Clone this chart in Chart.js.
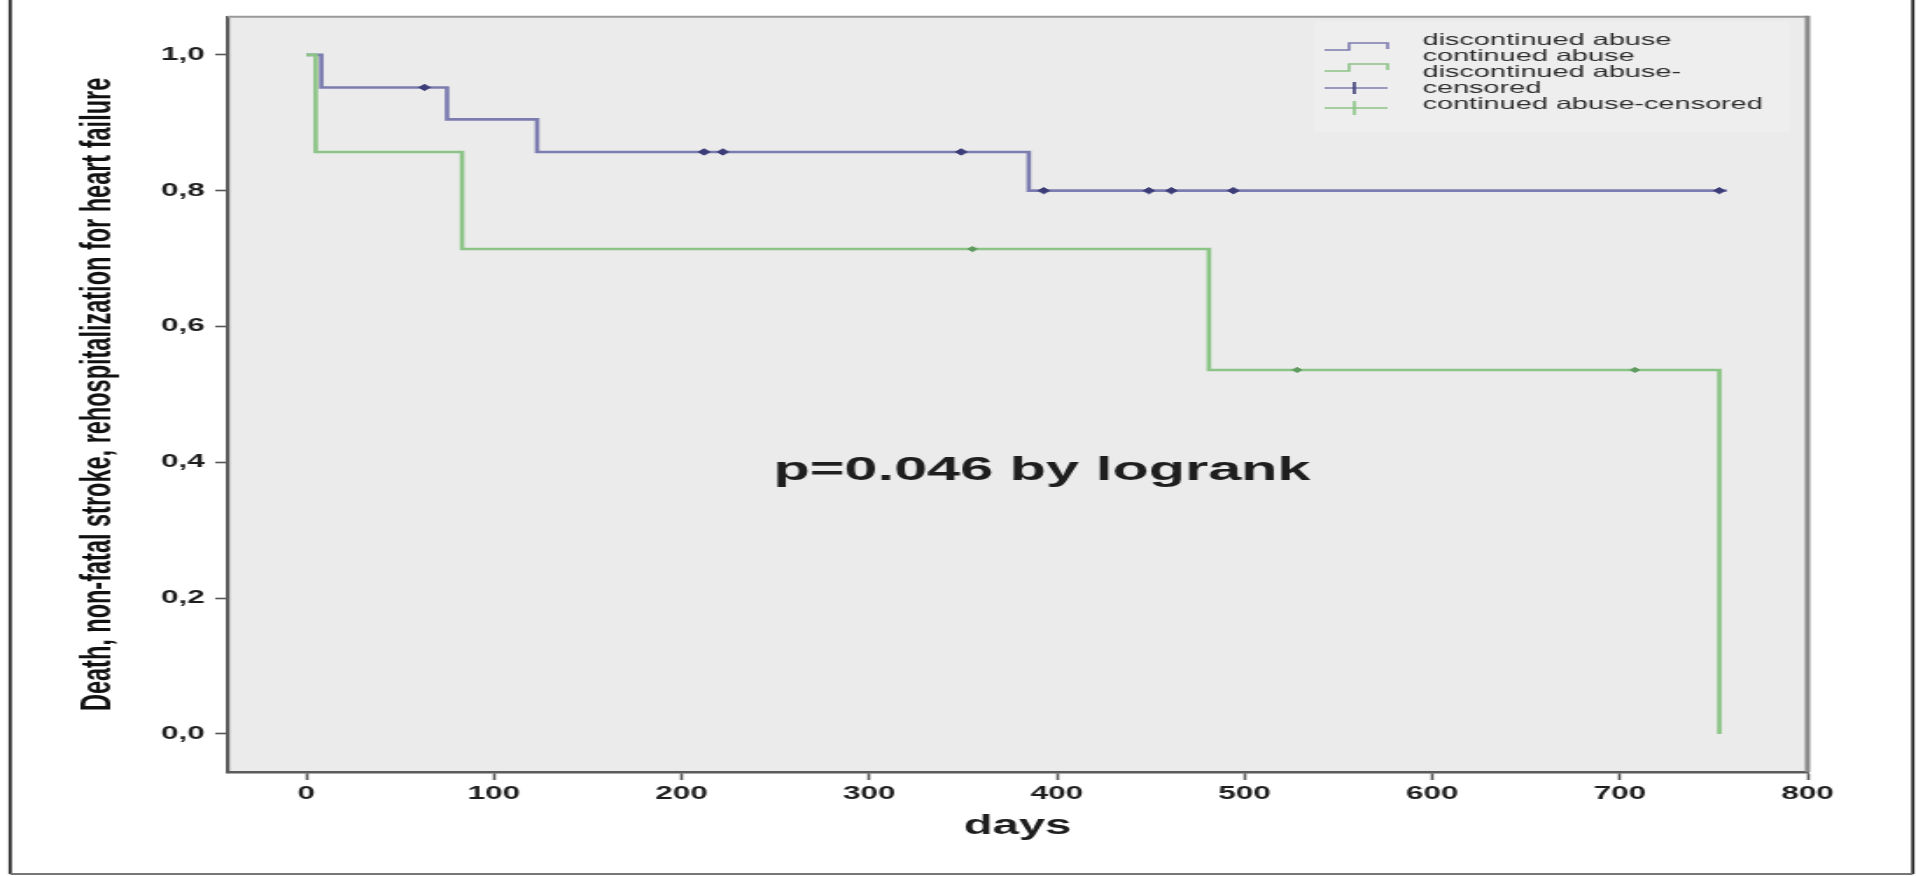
<!DOCTYPE html>
<html>
<head>
<meta charset="utf-8">
<script src="https://cdn.jsdelivr.net/npm/chart.js@4.4.1/dist/chart.umd.min.js"></script>
<style>
  html, body { margin: 0; padding: 0; background: #ffffff; overflow: hidden; }
  /* the original figure is stretched sideways, so the canvas is drawn narrow and widened */
  #chart { display: block; width: 1095px; height: 876px; transform: scaleX(1.749772); transform-origin: 0 0; filter: blur(0.4px); }
</style>
</head>
<body>
<canvas id="chart" width="1095" height="876"></canvas>
<script>
  // survival curves (days, cumulative survival)
  const blueDays = [0, 8, 75, 123, 385, 757];
  const blueSurv = [1.0, 0.952, 0.905, 0.857, 0.80, 0.80];
  const greenDays = [0, 5, 83, 481, 753];
  const greenSurv = [1.0, 0.857, 0.714, 0.536, 0.0];

  // censored cases
  const blueCensorDays = [63, 212, 222, 349, 393, 449, 461, 494, 753];
  const blueCensorSurv = [0.952, 0.857, 0.857, 0.857, 0.80, 0.80, 0.80, 0.80, 0.80];
  const greenCensorDays = [355, 528, 708];
  const greenCensorSurv = [0.714, 0.536, 0.536];

  // axes
  const xTicks = [0, 100, 200, 300, 400, 500, 600, 700, 800];
  const yTicks = [0.0, 0.2, 0.4, 0.6, 0.8, 1.0];
  const xMin = -42, xMax = 800;
  const yMin = -0.056, yMax = 1.056;

  const legendLabels = ['discontinued abuse', 'continued abuse', 'discontinued abuse-', 'censored', 'continued abuse-censored'];
  const pLabel = 'p=0.046 by logrank';
  const pLabelDay = 392;
  const pLabelSurv = 0.388;

  const blueColor = '#7c7cb0';
  const greenColor = '#8cc487';
  const blueMark = '#3c3c78';
  const greenMark = '#5f9a5f';
  const fontFamily = '"Liberation Sans", Arial, sans-serif';

  function toPoints(days, surv) {
    return days.map((d, i) => ({ x: d, y: surv[i] }));
  }

  // grey plot background, frames, legend and the logrank text
  const decorPlugin = {
    id: 'decor',
    beforeDraw(chart) {
      const { ctx, chartArea: a } = chart;
      ctx.save();
      ctx.fillStyle = '#ebebeb';
      ctx.fillRect(a.left, a.top, a.right - a.left, a.bottom - a.top);
      ctx.fillStyle = '#eeeeee';
      ctx.fillRect(a.right - 282, a.top + 5, 272, 110);
      ctx.restore();
    },
    afterDatasetsDraw(chart) {
      const { ctx, scales } = chart;
      ctx.save();
      ctx.fillStyle = '#1e1e1e';
      ctx.font = 'bold 34px ' + fontFamily;
      ctx.textAlign = 'center';
      ctx.textBaseline = 'middle';
      ctx.fillText(pLabel, scales.x.getPixelForValue(pLabelDay), scales.y.getPixelForValue(pLabelSurv));
      ctx.restore();
    },
    afterDraw(chart) {
      const { ctx, chartArea: a } = chart;
      ctx.save();
      // top and right edge of the plot box
      ctx.strokeStyle = '#9a9a9a';
      ctx.lineWidth = 2;
      ctx.beginPath();
      ctx.moveTo(a.left, a.top);
      ctx.lineTo(a.right, a.top);
      ctx.stroke();
      ctx.strokeStyle = '#8a8a8a';
      ctx.lineWidth = 3;
      ctx.beginPath();
      ctx.moveTo(a.right, a.top - 1);
      ctx.lineTo(a.right, a.bottom);
      ctx.stroke();

      // outer figure frame
      ctx.strokeStyle = '#222222';
      ctx.lineWidth = 1.8;
      ctx.beginPath();
      ctx.moveTo(5.8, 0);
      ctx.lineTo(5.8, 874);
      ctx.moveTo(1093.2, 0);
      ctx.lineTo(1093.2, 874);
      ctx.stroke();
      ctx.strokeStyle = '#777777';
      ctx.lineWidth = 2;
      ctx.beginPath();
      ctx.moveTo(5.8, 874);
      ctx.lineTo(1093.2, 874);
      ctx.stroke();

      // legend
      const x0 = a.right - 276, x1 = a.right - 262, x2 = a.right - 240, xc = a.right - 259;
      ctx.lineWidth = 1.6;
      ctx.strokeStyle = blueColor;
      ctx.beginPath();
      ctx.moveTo(x0, 50); ctx.lineTo(x1, 50); ctx.lineTo(x1, 43); ctx.lineTo(x2, 43); ctx.lineTo(x2, 49);
      ctx.stroke();
      ctx.strokeStyle = greenColor;
      ctx.beginPath();
      ctx.moveTo(x0, 71); ctx.lineTo(x1, 71); ctx.lineTo(x1, 64); ctx.lineTo(x2, 64); ctx.lineTo(x2, 70);
      ctx.stroke();
      ctx.strokeStyle = blueColor;
      ctx.beginPath();
      ctx.moveTo(x0, 88); ctx.lineTo(x2, 88);
      ctx.stroke();
      ctx.strokeStyle = blueMark;
      ctx.beginPath();
      ctx.moveTo(xc, 82); ctx.lineTo(xc, 94);
      ctx.stroke();
      ctx.strokeStyle = greenColor;
      ctx.beginPath();
      ctx.moveTo(x0, 108); ctx.lineTo(x2, 108);
      ctx.moveTo(xc, 101); ctx.lineTo(xc, 115);
      ctx.stroke();

      ctx.fillStyle = '#2e2e2e';
      ctx.font = '16.5px ' + fontFamily;
      ctx.textAlign = 'left';
      ctx.textBaseline = 'middle';
      const lineY = [40, 56, 72, 88, 104];
      legendLabels.forEach((t, i) => ctx.fillText(t, a.right - 220, lineY[i]));
      ctx.restore();
    }
  };

  const tickFont = { family: fontFamily, size: 18, weight: 'bold' };

  const chart = new Chart(document.getElementById('chart').getContext('2d'), {
    type: 'line',
    data: {
      datasets: [
        {
          label: 'discontinued abuse-censored',
          data: toPoints(blueCensorDays, blueCensorSurv),
          showLine: false,
          pointStyle: 'rectRot',
          pointRadius: 3.2,
          pointBackgroundColor: blueMark,
          pointBorderColor: blueMark,
          pointBorderWidth: 1
        },
        {
          label: 'continued abuse-censored',
          data: toPoints(greenCensorDays, greenCensorSurv),
          showLine: false,
          pointStyle: 'rectRot',
          pointRadius: 2.6,
          pointBackgroundColor: greenMark,
          pointBorderColor: greenMark,
          pointBorderWidth: 1
        },
        {
          label: 'continued abuse',
          data: toPoints(greenDays, greenSurv),
          stepped: 'before',
          borderColor: greenColor,
          borderWidth: 2.6,
          pointRadius: 0,
          fill: false
        },
        {
          label: 'discontinued abuse',
          data: toPoints(blueDays, blueSurv),
          stepped: 'before',
          borderColor: blueColor,
          borderWidth: 2.6,
          pointRadius: 0,
          fill: false
        }
      ]
    },
    options: {
      responsive: false,
      animation: false,
      devicePixelRatio: 1,
      layout: { padding: { left: 0, top: 12, right: 62, bottom: 0 } },
      plugins: {
        legend: { display: false },
        tooltip: { enabled: false }
      },
      scales: {
        x: {
          type: 'linear',
          min: xMin,
          max: xMax,
          afterBuildTicks: scale => { scale.ticks = xTicks.map(v => ({ value: v })); },
          afterFit: scale => { scale.height = 104; },
          grid: { drawOnChartArea: false, drawTicks: true, tickLength: 8, tickColor: '#555555', tickWidth: 1.6 },
          border: { display: true, color: '#5a5a5a', width: 2.4 },
          ticks: { color: '#1e1e1e', font: tickFont, padding: 3, maxRotation: 0 },
          title: {
            display: true,
            text: 'days',
            color: '#1e1e1e',
            font: { family: fontFamily, size: 27, weight: 'bold' },
            padding: { top: 0, bottom: 33 }
          }
        },
        y: {
          type: 'linear',
          min: yMin,
          max: yMax,
          afterBuildTicks: scale => { scale.ticks = yTicks.map(v => ({ value: v })); },
          afterFit: scale => { scale.width = 130; },
          grid: { drawOnChartArea: false, drawTicks: true, tickLength: 7, tickColor: '#555555', tickWidth: 1.6 },
          border: { display: true, color: '#5a5a5a', width: 2.2 },
          ticks: {
            color: '#1e1e1e',
            font: tickFont,
            padding: 6,
            callback: v => v.toFixed(1).replace('.', ',')
          },
          title: {
            display: true,
            text: 'Death, non-fatal stroke, rehospitalization for heart failure',
            color: '#111111',
            font: { family: fontFamily, size: 23.5, weight: 'bold' },
            padding: { top: 42, bottom: 0 }
          }
        }
      }
    },
    plugins: [decorPlugin]
  });
</script>
</body>
</html>
